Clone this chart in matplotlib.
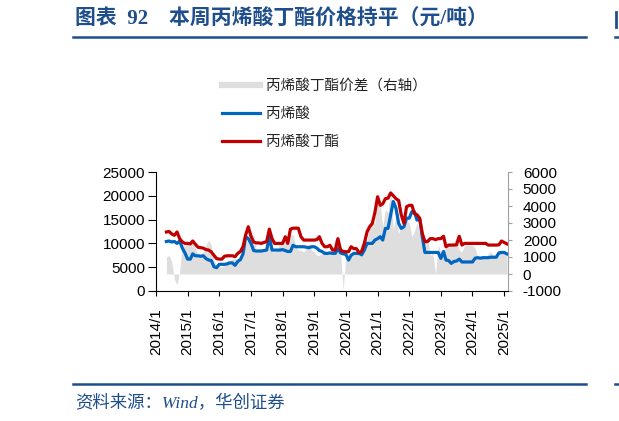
import matplotlib
matplotlib.use("Agg")
import matplotlib.pyplot as plt
import matplotlib.dates as mdates
import pandas as pd
from matplotlib.lines import Line2D

# monthly readings, 2014-05 .. 2025-02 (yuan/ton)
start_month = "2014-05-01"

butyl_acrylate = [
    12400, 12500, 12000, 11700, 12400, 11000, 10300, 10000,                      # 2014
    10000, 9900, 10500, 9800, 9200, 9100, 9000, 8700, 8600, 8200, 7500, 6800,    # 2015
    6700, 6700, 7300, 7400, 7400, 7400, 7200, 7900, 8300, 9300, 11800, 13500,    # 2016
    11500, 10300, 10100, 10100, 10000, 10200, 10400, 13000, 11000, 10000, 10000, 10000,  # 2017
    10000, 11400, 10000, 13000, 13200, 13200, 13200, 11400, 10700, 10700, 10700, 10700,  # 2018
    10700, 10800, 11400, 10000, 9300, 9300, 9600, 8600, 8600, 11000, 8600, 8300,  # 2019
    8250, 8250, 9300, 8900, 8900, 8100, 8300, 10000, 12400, 13500, 14200, 16500,  # 2020
    19800, 18000, 18300, 19400, 19500, 20600, 20000, 19400, 19000, 16000, 14200, 17700,  # 2021
    18000, 18000, 16300, 16000, 15300, 12100, 10350, 10400, 11000, 11000, 10800, 11000,  # 2022
    11000, 11500, 9300, 9650, 9650, 9650, 9700, 11500, 9650, 10000, 10000, 10000,  # 2023
    10000, 10000, 10000, 10000, 10000, 10000, 9650, 9650, 9650, 9650, 9700, 10500,  # 2024
    10200, 9900,                                                                   # 2025
]

acrylic_acid = [
    10400, 10500, 10300, 10400, 10000, 10500, 9000, 8000,                         # 2014
    6700, 6700, 7800, 7400, 7400, 7300, 7400, 6800, 6500, 6400, 5100, 4900,       # 2015
    5600, 5600, 5600, 5700, 5900, 5900, 5400, 6200, 6600, 7800, 11400, 11000,     # 2016
    10000, 8500, 8400, 8400, 8400, 8500, 8600, 11400, 8600, 8600, 8600, 8600,     # 2017
    8700, 8500, 8300, 8300, 9600, 9300, 9300, 9300, 9300, 9200, 9100, 9300,      # 2018
    9300, 9000, 8500, 8300, 7900, 7900, 8000, 7900, 7900, 8900, 8000, 7800,      # 2019
    7700, 6500, 7500, 7900, 7900, 7900, 7600, 8600, 10000, 10000, 10000, 10700,   # 2020
    11000, 11400, 10700, 13150, 13150, 16000, 18800, 17400, 14200, 13150, 13500, 15300,  # 2021
    15300, 16650, 16650, 14900, 15300, 11400, 8100, 8100, 8100, 8100, 8100, 8100,  # 2022
    6850, 8300, 6500, 6400, 5800, 6200, 6300, 6700, 6100, 6100, 6100, 6100,      # 2023
    6100, 6900, 7000, 6900, 7000, 7000, 7000, 7100, 7100, 7100, 8000, 8100,      # 2024
    8100, 7800,                                                                    # 2025
]

# butyl acrylate spread, right axis
ba_spread = [
    1000, 1100, 750, -300, -650, 200, 1700, 1700,                                 # 2014
    1800, 2000, 2000, 1500, 1200, 1200, 1300, 1700, 2000, 1700, 800, 500,         # 2015
    450, 400, 500, 800, 800, 900, 900, 900, 1000, 1400, 1800, 2000,               # 2016
    2350, 2300, 1400, 1400, 1500, 1400, 1500, 2550, 1300, 1300, 1400, 1900,       # 2017
    1900, 2000, 2300, 2300, 2300, 1600, 1400, 1400, 1300, 1500, 1800, 1400,       # 2018
    1300, 1100, 1100, 1200, 1400, 1300, 1200, 1500, 2100, 1300, 1300, -950,       # 2019
    1100, 1100, 1100, 1300, 1200, 1300, 1800, 2100, 2000, 3000, 3000, 3000,       # 2020
    4850, 4000, 2800, 3800, 3600, 4950, 2600, 3400, 2400, 2800, 3200, 3200,       # 2021
    3000, 2200, 2500, 3000, 2400, 2200, 2100, 2100, 1100, 1200, 0, 1700,          # 2022
    1300, 1300, 1600, 1600, 1800, 1900, 2200, 1400, 1300, 1700, 1700, 1700,      # 2023
    1700, 1500, 1000, 1000, 1100, 1000, 1200, 1300, 1000, 1200, 1400, 1300,      # 2024
    1200, 1100,                                                                    # 2025
]

year_ticks = list(range(2014, 2026))

NAVY = "#1F4E8C"
BLUE = "#0066C0"
RED = "#C00000"
GRAY = "#DEDEDE"
CJK = ["Noto Sans CJK SC", "DejaVu Sans"]

plt.rcParams["font.family"] = ["Liberation Sans", "Noto Sans CJK SC", "DejaVu Sans"]
plt.rcParams["axes.unicode_minus"] = False

dates = pd.date_range(start_month, periods=len(acrylic_acid), freq="MS")

fig = plt.figure(figsize=(6.19, 4.21), dpi=100)
ax = fig.add_axes([156 / 619, 1 - 291 / 421, (507.5 - 156) / 619, (291 - 172) / 421])
ax2 = ax.twinx()
ax.set_zorder(ax2.get_zorder() + 1)
ax.patch.set_visible(False)

ax2.fill_between(dates, 0, ba_spread, color=GRAY, linewidth=0)
ax.plot(dates, acrylic_acid, color=BLUE, linewidth=2.3)
ax.plot(dates, butyl_acrylate, color=RED, linewidth=2.3)

ax.set_xlim(pd.Timestamp("2014-01-01"), pd.Timestamp("2025-02-08"))
ax.set_ylim(0, 25000)
ax2.set_ylim(-1000, 6000)
ax.set_yticks(range(0, 25001, 5000))
ax2.set_yticks(range(-1000, 6001, 1000))
ax.set_xticks([pd.Timestamp(f"{y}-01-01") for y in year_ticks])
ax.xaxis.set_major_formatter(mdates.DateFormatter("%Y/1"))

for a in (ax, ax2):
    a.spines["top"].set_visible(False)
ax.spines["right"].set_visible(False)
ax2.spines["left"].set_visible(False)
ax2.spines["bottom"].set_visible(False)
ax2.spines["right"].set_color("#A0A0A0")

ax.tick_params(axis="y", direction="out", length=6, width=0.8, labelsize=11, pad=2)
ax.tick_params(axis="x", direction="out", length=3.5, width=0.8, labelsize=11,
               rotation=90, pad=9)
ax2.tick_params(axis="y", direction="out", length=3, width=0.8, color="#A0A0A0",
                labelsize=11, pad=8)

handles = [
    Line2D([], [], color=GRAY, linewidth=4.5),
    Line2D([], [], color=BLUE, linewidth=2.3),
    Line2D([], [], color=RED, linewidth=2.3),
]
labels = ["丙烯酸丁酯价差（右轴）", "丙烯酸", "丙烯酸丁酯"]
leg = fig.legend(handles, labels, loc="upper left",
                 bbox_to_anchor=(222 / 619, 1 - 79 / 421), frameon=False,
                 prop={"family": CJK, "size": 10.5}, handlelength=2.6,
                 handletextpad=0.4, labelspacing=0.95, borderpad=0,
                 borderaxespad=0)
for t in leg.get_texts():
    t.set_color("#222222")

# header and footer
fig.text(75 / 619, 1 - 20 / 421, "图表  92　本周丙烯酸丁酯价格持平（元/吨）",
         family=["Liberation Serif", "Noto Sans CJK SC"], weight="bold",
         size=15, color=NAVY, va="center", ha="left")
fig.add_artist(Line2D([73 / 619, 586 / 619], [1 - 37 / 421] * 2,
                      color=NAVY, linewidth=1.8))
fig.add_artist(Line2D([73 / 619, 586 / 619], [1 - 384 / 421] * 2,
                      color=NAVY, linewidth=1.8))
fig.text(75 / 619, 1 - 404 / 421, "资料来源：Wind，华创证券",
         family=["Liberation Serif", "Noto Sans CJK SC"], style="italic",
         size=12.5, color=NAVY, va="center", ha="left")

# edge of the neighbouring chart
fig.add_artist(Line2D([615 / 619, 1.0], [1 - 37 / 421] * 2, color=NAVY, linewidth=1.8))
fig.add_artist(Line2D([615 / 619, 1.0], [1 - 384 / 421] * 2, color=NAVY, linewidth=1.8))
fig.add_artist(Line2D([616 / 619] * 2, [1 - 12 / 421, 1 - 27 / 421], color=NAVY, linewidth=2))

fig.savefig("out.png", dpi=100)
